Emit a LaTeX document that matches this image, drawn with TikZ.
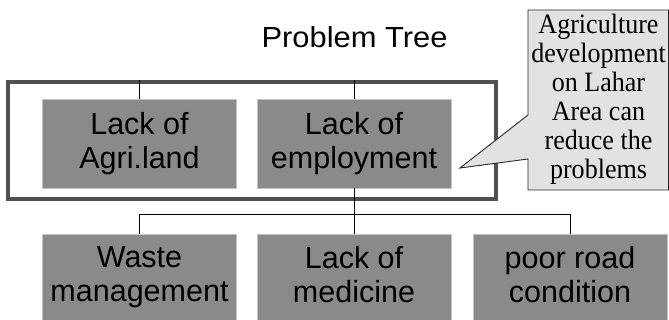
\documentclass[tikz,border=0pt]{standalone}
\usepackage{fontspec}
\setmainfont{Liberation Serif}
\newfontfamily\notefont[FakeStretch=0.93]{Liberation Serif}
\newfontfamily\boxfont{Liberation Sans}
\newfontfamily\titlefont[FakeStretch=1.065]{Liberation Sans}
\definecolor{boxgray}{HTML}{8A8A8A}
\definecolor{boxedge}{HTML}{C4C4C4}
\definecolor{framegray}{HTML}{505050}
\definecolor{notefill}{HTML}{E2E2E2}
\definecolor{noteedge}{HTML}{2A2A2A}
\begin{document}
\begin{tikzpicture}[x=1pt,y=-1pt,
  causebox/.style={fill=boxgray, draw=boxedge, line width=0.8pt, inner sep=0pt,
    minimum width=194pt, minimum height=89pt, align=center,
    font=\fontsize{30.5}{34}\boxfont},
  toprow/.style={causebox,
    execute at begin node={\rule{0pt}{40pt}},
    execute at end node={\rule[-7pt]{0pt}{7pt}}},
  botrow/.style={causebox,
    execute at begin node={\rule{0pt}{32pt}},
    execute at end node={\rule[-9pt]{0pt}{9pt}}},
  framebox/.style={draw=framegray, line width=4pt, inner sep=0pt,
    minimum width=488pt, minimum height=117pt},
  conn/.style={draw=black, line width=0.9pt},
  notebox/.style={fill=notefill, draw=noteedge, line width=0.9pt, line join=miter},
  notetext/.style={align=center, inner sep=0pt, font=\fontsize{28}{29}\notefont},
  titletext/.style={font=\fontsize{29}{34}\titlefont, inner sep=0pt}
]
\useasboundingbox (0,0) rectangle (669,320);
\fill[white] (0,0) rectangle (669,320);

% title
\node[titletext, anchor=base] (title) at (354.5,48) {Problem Tree};

% top row causes
\node[toprow] (b1) at (139.5,143.5) {Lack of\\Agri.land};
\node[toprow] (b2) at (354,143.5) {Lack of\\employment};

% bottom row
\node[botrow] (c1) at (139.5,278.5) {Waste\\management};
\node[botrow] (c2) at (354,278.5) {Lack of\\medicine};
\node[botrow] (c3) at (570,278.5) {poor road\\condition};

% frame
\node[framebox] (frame) at (252,141) {};

% connectors
\draw[conn] (b1.north) -- (b1.north |- frame.north);
\draw[conn] (b2.north) -- (b2.north |- frame.north);
\coordinate (bus) at (0,214);
\draw[conn] (b2.south) -- (c2.north);
\draw[conn] (c1.north) -- (c1.north |- bus) -- (c3.north |- bus) -- (c3.north);

% callout
\coordinate (tip) at (460,168);
\path[notebox] (528,10) -- (668.5,10) -- (668.5,190) -- (528,190) -- (528,159)
  -- (tip) -- (528,115) -- cycle;
\node[notetext] (note) at (598.5,99)
  {Agriculture\\development\\on Lahar\\Area can\\reduce the\\problems};
\end{tikzpicture}
\end{document}
